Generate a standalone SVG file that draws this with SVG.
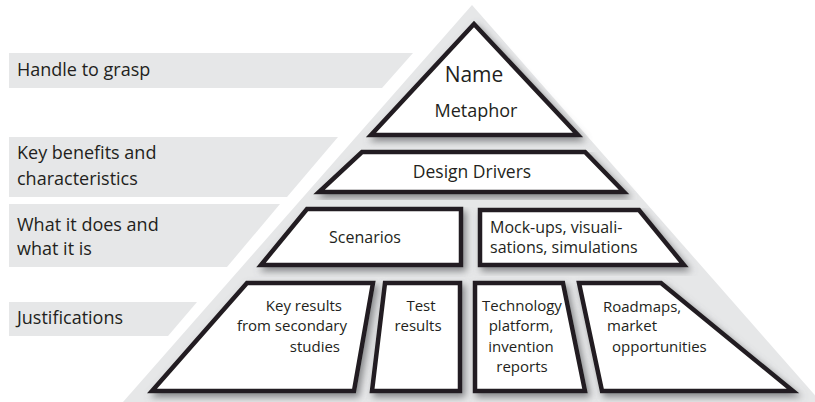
<svg xmlns="http://www.w3.org/2000/svg" width="815" height="402" viewBox="0 0 815 402">
  <defs>
    <filter id="shadow" x="-10%" y="-10%" width="125%" height="130%">
      <feGaussianBlur in="SourceAlpha" stdDeviation="3.5"/>
      <feOffset dx="3" dy="4" result="blur"/>
      <feFlood flood-color="#6d6e71" flood-opacity="0.8"/>
      <feComposite in2="blur" operator="in" result="sh"/>
      <feMerge>
        <feMergeNode in="sh"/>
        <feMergeNode in="SourceGraphic"/>
      </feMerge>
    </filter>
  </defs>
  <style>
    .band { fill: #e6e7e8; }
    .block { fill: #ffffff; stroke: #231f20; stroke-width: 4.5; stroke-linejoin: miter; }
    text { font-family: "Open Sans", "Noto Sans", sans-serif; fill: #231f20; font-size: 15px; }
    .lbl { font-size: 18px; }
    .mid { font-size: 16px; }
    .c { text-anchor: middle; }
  </style>

  <rect width="815" height="402" fill="#ffffff"/>

  <!-- layer labels on the left -->
  <g id="labels">
    <g id="label-handle">
      <polygon class="band" points="9,53 413,53 382,88 9,88"/>
      <text class="lbl" x="17" y="76">Handle to grasp</text>
    </g>
    <g id="label-benefits">
      <polygon class="band" points="9,137 338,137 287,197 9,197"/>
      <text class="lbl" x="17" y="159">Key benefits and</text>
      <text class="lbl" x="17" y="185">characteristics</text>
    </g>
    <g id="label-does">
      <polygon class="band" points="9,204 280,204 227,267 9,267"/>
      <text class="lbl" x="17" y="231">What it does and</text>
      <text class="lbl" x="17" y="255">what it is</text>
    </g>
    <g id="label-justifications">
      <polygon class="band" points="9,302 197,302 168,336 9,336"/>
      <text class="lbl" x="17" y="324">Justifications</text>
    </g>
  </g>

  <!-- pyramid backdrop -->
  <polygon id="pyramid" class="band" points="472,5 821,402 123,402"/>

  <g id="name">
    <polygon class="block" filter="url(#shadow)" points="474,24 578,135 371,135"/>
    <text class="c" x="474" y="82" style="font-size:21px">Name</text>
    <text class="c" x="476" y="117" style="font-size:18px">Metaphor</text>
  </g>

  <g id="design-drivers">
    <polygon class="block" filter="url(#shadow)" points="362,152 585,152 624,192 319,192"/>
    <text class="c" x="472" y="178" style="font-size:17.5px">Design Drivers</text>
  </g>

  <g id="scenarios">
    <polygon class="block" filter="url(#shadow)" points="307,209 461,209 461,265 261,265"/>
    <text class="c mid" x="365" y="243">Scenarios</text>
  </g>

  <g id="mockups">
    <polygon class="block" filter="url(#shadow)" points="480,210 639,210 684,265 480,265"/>
    <text class="mid" x="490" y="233">Mock-ups, visuali-</text>
    <text class="mid" x="490" y="253">sations, simulations</text>
  </g>

  <g id="key-results">
    <polygon class="block" filter="url(#shadow)" points="247,283 373,283 354,391 152,391"/>
    <text x="342" y="311" text-anchor="end">Key results</text>
    <text x="347" y="331" text-anchor="end">from secondary</text>
    <text x="340" y="352" text-anchor="end">studies</text>
  </g>

  <g id="test-results">
    <polygon class="block" filter="url(#shadow)" points="385,283 460,283 460,391 372,391"/>
    <text class="c" x="421" y="311">Test</text>
    <text class="c" x="418" y="331">results</text>
  </g>

  <g id="technology">
    <polygon class="block" filter="url(#shadow)" points="475,283 563,283 585,391 475,391"/>
    <text class="c" x="522" y="311">Technology</text>
    <text class="c" x="521" y="331">platform,</text>
    <text class="c" x="521" y="352">invention</text>
    <text class="c" x="522" y="372">reports</text>
  </g>

  <g id="roadmaps">
    <polygon class="block" filter="url(#shadow)" points="579,283 661,283 793,391 602,391"/>
    <text x="603" y="312">Roadmaps,</text>
    <text x="607" y="331">market</text>
    <text x="612" y="352">opportunities</text>
  </g>

  <g id="connectors"/>
</svg>
